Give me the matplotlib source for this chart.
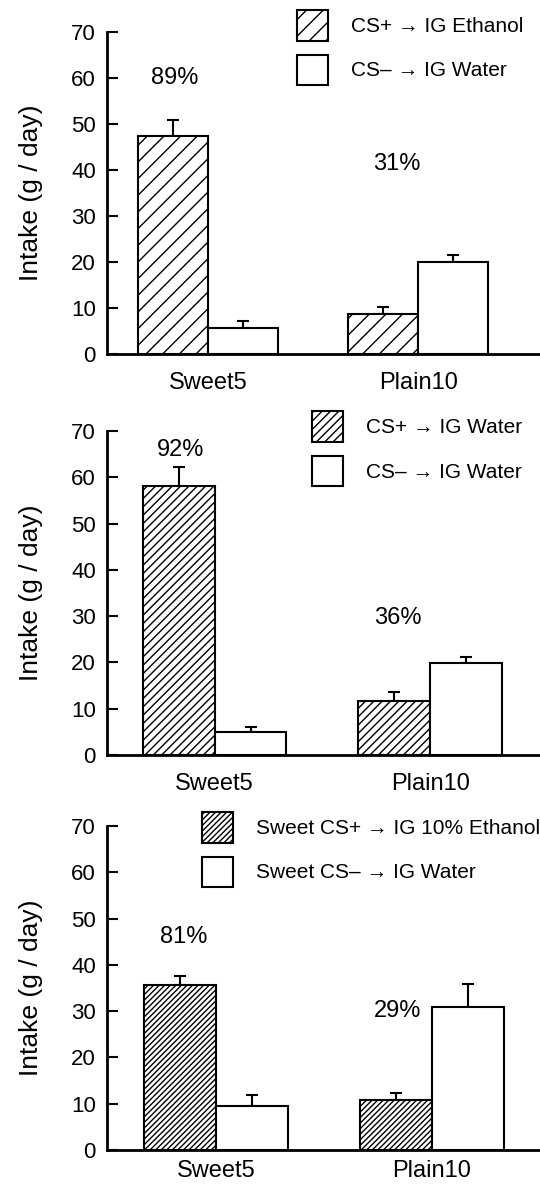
import numpy as np
import matplotlib
matplotlib.use("Agg")
import matplotlib.pyplot as plt
from matplotlib.patches import Patch

plt.rcParams['font.family'] = ['Liberation Sans', 'DejaVu Sans']
plt.rcParams['hatch.linewidth'] = 1.0

# ------------------------------
# Data
# ------------------------------
groups = ["Sweet5", "Plain10"]

plus_mean = [[47.5, 8.7], [58.1, 11.7], [35.6, 10.8]]
plus_err = [[3.3, 1.5], [4.1, 1.9], [2.0, 1.5]]
minus_mean = [[5.7, 20.0], [5.0, 19.9], [9.5, 30.9]]
minus_err = [[1.4, 1.5], [1.0, 1.3], [2.4, 5.0]]

pct_labels = [["89%", "31%"], ["92%", "36%"], ["81%", "29%"]]
pct_x = [[-0.16, 0.9], [-0.16, 0.85], [-0.15, 0.84]]
pct_y = [[60, 41.2], [66, 29.5], [46, 30.0]]

legend_plus = ["CS+ \u2192 IG Ethanol", "CS+ \u2192 IG Water",
               "Sweet CS+ \u2192 IG 10% Ethanol"]
legend_minus = ["CS\u2013 \u2192 IG Water", "CS\u2013 \u2192 IG Water",
                "Sweet CS\u2013 \u2192 IG Water"]

# ------------------------------
# Layout
# ------------------------------
H = 1186.0
W = 540.0
panel_px = [(32, 354), (431, 755), (826, 1150)]  # (top, bottom) of axes
left_px = 107
xlims = [(-0.48, 1.58), (-0.50, 1.51), (-0.505, 1.50)]
hatches = ['//', '////', '//////']
legend_anchor = [(0.42, 1.093), (0.455, 1.086), (0.20, 1.068)]
xlabel_pad = [13, 13, 7]

fig = plt.figure(figsize=(5.4, 11.86), dpi=100)

x = np.arange(len(groups))
w = 0.333
fs_leg = 15

for i in range(3):
    top, bot = panel_px[i]
    l = left_px / W
    ax = fig.add_axes([l, 1 - bot / H, 1 - l, (bot - top) / H])

    ax.bar(x - w / 2, plus_mean[i], w, color='white', edgecolor='black',
           linewidth=1.5, hatch=hatches[i], zorder=2)
    ax.bar(x + w / 2, minus_mean[i], w, color='white', edgecolor='black',
           linewidth=1.5, zorder=2)
    ax.errorbar(x - w / 2, plus_mean[i],
                yerr=[np.zeros(2), plus_err[i]], fmt='none',
                ecolor='black', elinewidth=1.5, capsize=4.5, capthick=1.5,
                zorder=1)
    ax.errorbar(x + w / 2, minus_mean[i],
                yerr=[np.zeros(2), minus_err[i]], fmt='none',
                ecolor='black', elinewidth=1.5, capsize=4.5, capthick=1.5,
                zorder=1)

    for j in range(2):
        ax.text(pct_x[i][j], pct_y[i][j], pct_labels[i][j], ha='center',
                va='center', fontsize=17)

    ax.set_xlim(*xlims[i])
    ax.set_ylim(0, 70)
    ax.set_yticks(range(0, 71, 10))
    ax.set_xticks(x)
    ax.set_xticklabels(groups, fontsize=17)
    ax.tick_params(axis='y', direction='in', length=8, width=1.5,
                   labelsize=16, pad=8)
    ax.tick_params(axis='x', length=0, pad=xlabel_pad[i])
    for s in ['top', 'right']:
        ax.spines[s].set_visible(False)
    ax.spines['left'].set_linewidth(2)
    ax.spines['bottom'].set_linewidth(2)
    ax.set_ylabel("Intake (g / day)", fontsize=19, labelpad=20)

    handles = [Patch(facecolor='white', edgecolor='black', linewidth=1.5,
                     hatch=hatches[i]),
               Patch(facecolor='white', edgecolor='black', linewidth=1.5)]
    ax.legend(handles, [legend_plus[i], legend_minus[i]], loc='upper left',
              bbox_to_anchor=legend_anchor[i], frameon=False, fontsize=fs_leg,
              handlelength=1.49, handleheight=1.86, labelspacing=0.67,
              handletextpad=1.1, borderaxespad=0)

fig.savefig("out.png", dpi=100)
